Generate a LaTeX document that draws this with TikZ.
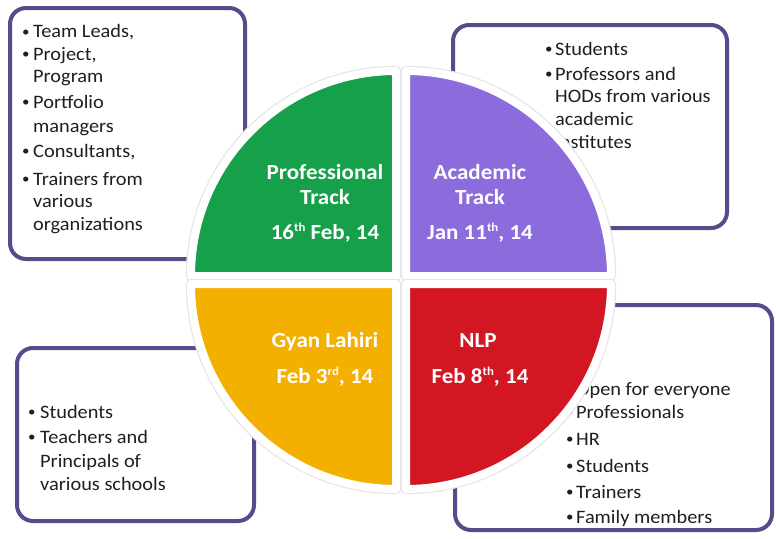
\documentclass[tikz,border=0pt]{standalone}
\usepackage{fontspec}
\setmainfont{Carlito}[FakeStretch=1.07]
\definecolor{qgreen}{RGB}{22,160,74}
\definecolor{qpurple}{RGB}{140,108,220}
\definecolor{qyellow}{RGB}{244,176,0}
\definecolor{qred}{RGB}{210,22,34}
\definecolor{frame}{RGB}{84,76,140}
\newcommand\bul[1]{\makebox[#1][l]{\raisebox{1.2pt}{\fontsize{14}{14}\selectfont\textbullet}}}
\newcommand\sups[1]{\raisebox{0.75ex}{\fontsize{12}{12}\selectfont #1}}
\begin{document}
\begin{tikzpicture}[x=1pt,y=-1pt,
  infobox/.style={draw=frame, line width=4pt, rounded corners=16pt, fill=white},
  quad/.style={draw=white, line width=8pt, line join=round, preaction={draw=black!10, line width=10.5pt, line join=round}},
  line/.style={anchor=base west, inner sep=0pt, font=\fontsize{19}{23}\selectfont, text=black!88},
  title/.style={anchor=base, inner sep=0pt, font=\fontsize{21.5}{26}\selectfont\bfseries, text=white}]
\useasboundingbox (0,0) rectangle (776,538);
\fill[white] (0,0) rectangle (776,538);

% boxes
\draw[infobox] (10,8) rectangle (245,259);
\draw[infobox] (453,25) rectangle (727,228);
\draw[infobox] (17,348) rectangle (254,521);
\draw[infobox] (455,305) rectangle (772,530);

% top-left text
\node[line] (tl1) at (22,37.5) {\bul{11pt}Team Leads,};
\node[line] (tl2) at (22,60) {\bul{11pt}Project,};
\node[line] (tl3) at (33,82) {Program};
\node[line] (tl4) at (22,108) {\bul{11pt}Portfolio};
\node[line] (tl5) at (33,132) {managers};
\node[line] (tl6) at (22,157) {\bul{11pt}Consultants,};
\node[line] (tl7) at (22,185) {\bul{11pt}Trainers from};
\node[line] (tl8) at (33,207) {various};
\node[line] (tl9) at (33,230) {organizations};

% top-right text
\node[line] (tr1) at (545,55) {\bul{10pt}Students};
\node[line] (tr2) at (545,80) {\bul{10pt}Professors and};
\node[line] (tr3) at (555,102) {HODs from various};
\node[line] (tr4) at (555,125) {academic};
\node[line] (tr5) at (555,148) {institutes};

% bottom-left text
\node[line] (bl1) at (28,418) {\bul{12pt}Students};
\node[line] (bl2) at (28,443) {\bul{12pt}Teachers and};
\node[line] (bl3) at (40,467) {Principals of};
\node[line] (bl4) at (40,490) {various schools};

% bottom-right text
\node[line] (br1) at (566,395) {\bul{10pt}Open for everyone};
\node[line] (br2) at (566,418) {\bul{10pt}Professionals};
\node[line] (br3) at (566,445) {\bul{10pt}HR};
\node[line] (br4) at (566,472) {\bul{10pt}Students};
\node[line] (br5) at (566,498) {\bul{10pt}Trainers};
\node[line] (br6) at (566,523) {\bul{10pt}Family members};

% quadrants
\draw[quad, fill=qgreen]  (396,276) -- (191,276) arc[start angle=180, end angle=270, radius=205] -- cycle;
\draw[quad, fill=qpurple] (406,276) -- (406,71)  arc[start angle=270, end angle=360, radius=205] -- cycle;
\draw[quad, fill=qred]    (406,284) -- (611,284) arc[start angle=0,   end angle=90,  radius=205] -- cycle;
\draw[quad, fill=qyellow] (396,284) -- (396,489) arc[start angle=90,  end angle=180, radius=205] -- cycle;

% quadrant titles
\node[title] (pt1) at (325,179) {Professional};
\node[title] (pt2) at (325,204) {Track};
\node[title] (pt3) at (325,239) {16\sups{th} Feb, 14};
\node[title] (at1) at (480,179) {Academic};
\node[title] (at2) at (480,204) {Track};
\node[title] (at3) at (480,239) {Jan 11\sups{th}, 14};
\node[title] (gl1) at (325,347) {Gyan Lahiri};
\node[title] (gl2) at (325,383) {Feb 3\sups{rd}, 14};
\node[title] (nl1) at (478,347) {NLP};
\node[title] (nl2) at (480,383) {Feb 8\sups{th}, 14};
\end{tikzpicture}
\end{document}
